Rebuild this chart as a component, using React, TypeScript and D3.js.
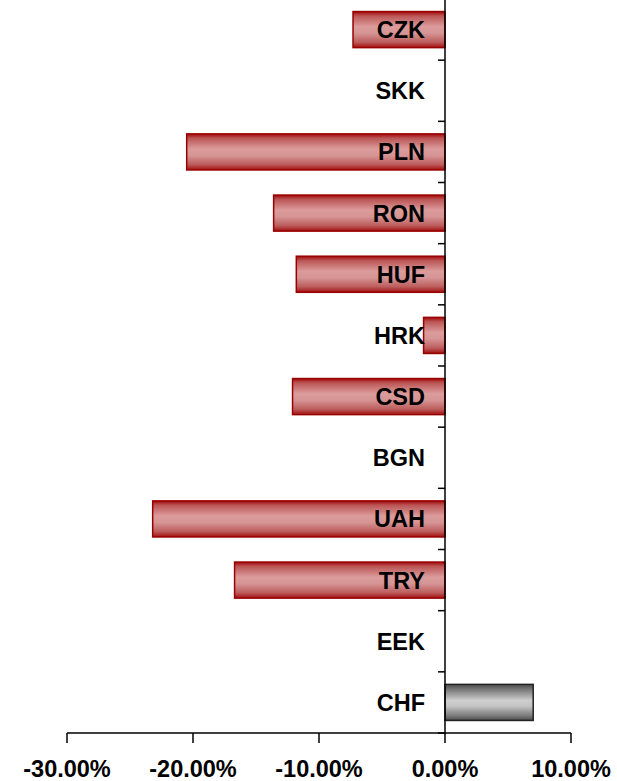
import React from "react";
import * as d3 from "d3";

const categories = ["CZK", "SKK", "PLN", "RON", "HUF", "HRK", "CSD", "BGN", "UAH", "TRY", "EEK", "CHF"];
const values = [-7.3, 0, -20.5, -13.6, -11.8, -1.7, -12.1, 0, -23.2, -16.7, 0, 7.0];
const xTicks = [-30, -20, -10, 0, 10];

const W = 617;
const H = 781;

export default function App() {
  const x = d3.scaleLinear().domain([-30, 10]).range([67, 571]);
  const y = d3.scaleBand<string>().domain(categories).range([-1, 733]).padding(0);
  const bw = y.bandwidth();
  const barH = bw * 0.59;
  const x0 = x(0);
  const axisY = y.range()[1];
  const boundaries = categories.map((c) => y(c) as number).concat([axisY]);
  const fmt = (v: number) => d3.format(".2f")(v).replace("\u2212", "-") + "%";
  const font = "'Liberation Sans', Arial, Helvetica, sans-serif";

  return (
    <svg width={W} height={H} style={{ position: "absolute", left: 0, top: 0, background: "#fff" }}>
      <defs>
        <linearGradient id="redGrad" x1="0" y1="0" x2="0" y2="1">
          <stop offset="0" stopColor="#a00808" />
          <stop offset="0.12" stopColor="#bb5555" />
          <stop offset="0.42" stopColor="#dc9c9c" />
          <stop offset="0.6" stopColor="#d69494" />
          <stop offset="0.85" stopColor="#bc5c5c" />
          <stop offset="1" stopColor="#a30f0f" />
        </linearGradient>
        <linearGradient id="grayGrad" x1="0" y1="0" x2="0" y2="1">
          <stop offset="0" stopColor="#4a4a4a" />
          <stop offset="0.15" stopColor="#7a7a7a" />
          <stop offset="0.45" stopColor="#cfcfcf" />
          <stop offset="0.6" stopColor="#c4c4c4" />
          <stop offset="0.88" stopColor="#777" />
          <stop offset="1" stopColor="#4a4a4a" />
        </linearGradient>
      </defs>

      {/* bars */}
      {categories.map((c, i) => {
        const v = values[i];
        if (v === 0) return null;
        const yc = (y(c) as number) + bw / 2;
        const left = Math.min(x(v), x0);
        const width = Math.abs(x(v) - x0);
        const pos = v > 0;
        return (
          <rect
            key={c}
            x={left}
            y={yc - barH / 2}
            width={width}
            height={barH}
            fill={pos ? "url(#grayGrad)" : "url(#redGrad)"}
            stroke={pos ? "#222" : "#990000"}
            strokeWidth={1.5}
          />
        );
      })}

      {/* category labels */}
      {categories.map((c) => (
        <text
          key={c}
          x={x0 - 20}
          y={(y(c) as number) + bw / 2}
          dy="0.36em"
          textAnchor="end"
          fontFamily={font}
          fontWeight="bold"
          fontSize={23.5}
          fill="#000"
        >
          {c}
        </text>
      ))}

      {/* y axis */}
      <line x1={x0} x2={x0} y1={-2} y2={axisY} stroke="#000" strokeWidth={1.5} />
      {boundaries.map((b, i) => (
        <line key={"yt" + i} x1={x0 - 7} x2={x0} y1={b} y2={b} stroke="#000" strokeWidth={1.5} />
      ))}

      {/* x axis */}
      <line x1={x(-30)} x2={x(10)} y1={axisY} y2={axisY} stroke="#000" strokeWidth={1.5} />
      {xTicks.map((t) => (
        <g key={"xt" + t}>
          <line x1={x(t)} x2={x(t)} y1={axisY} y2={axisY + 10} stroke="#000" strokeWidth={1.5} />
          <text
            x={x(t)}
            y={777}
            textAnchor="middle"
            fontFamily={font}
            fontWeight="bold"
            fontSize={23.5}
            fill="#000"
          >
            {fmt(t)}
          </text>
        </g>
      ))}
    </svg>
  );
}
